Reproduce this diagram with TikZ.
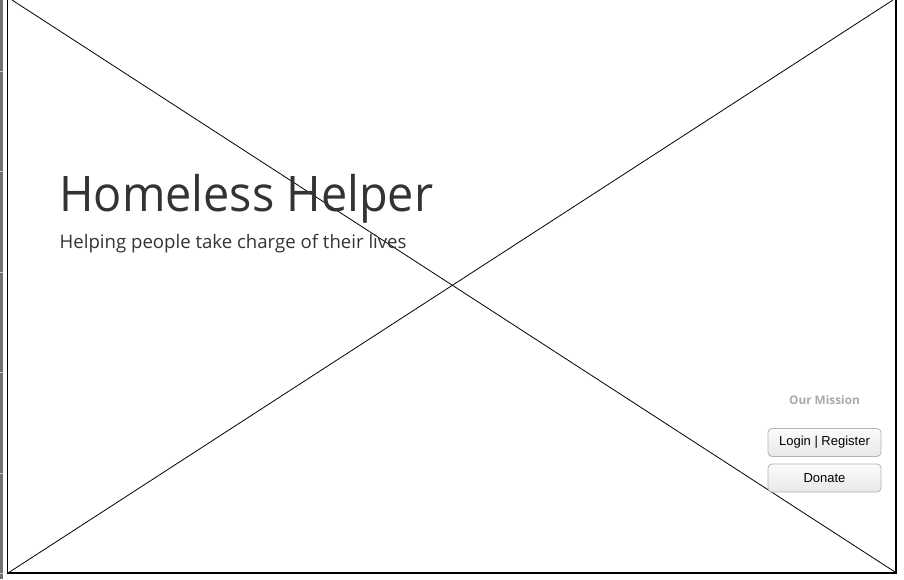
\documentclass[tikz,border=0pt]{standalone}
\usepackage{fontspec}
\setmainfont{Open Sans}
\newfontfamily\btnfont{Liberation Sans}
\usetikzlibrary{shadings}
\definecolor{titlegray}{HTML}{333333}
\definecolor{missiongray}{HTML}{AAAAAA}
\definecolor{stripgray}{HTML}{707070}
\definecolor{tickgray}{HTML}{C8C8C8}
\definecolor{btnborder}{HTML}{B4B4B4}
\definecolor{btntop}{HTML}{FBFBFB}
\definecolor{btnbot}{HTML}{E8E8E8}
\tikzset{
  frameline/.style={draw=black, line width=1.2pt},
  crossline/.style={draw=black, line width=0.8pt},
  btnbox/.style={draw=btnborder, line width=0.8pt, rounded corners=4pt,
    top color=btntop, bottom color=btnbot, minimum width=113pt,
    minimum height=28pt, inner sep=0pt, font=\btnfont\fontsize{13}{15}\selectfont, text=black},
  tickmark/.style={draw=tickgray, line width=1pt}
}
\begin{document}
\begin{tikzpicture}[x=1pt,y=-1pt]
\useasboundingbox (0,0) rectangle (904,579);
\fill[white] (0,0) rectangle (904,579);
% left strip
\fill[stripgray] (0,0) rectangle (3,579);
\foreach \t in {71,171,272,372,473,573} {
  \draw[tickmark] (0,\t) -- (3,\t);
}
% frame
\coordinate (tl) at (7.5,-2);
\coordinate (bl) at (7.5,573);
\coordinate (br) at (896,573);
\coordinate (tr) at (896,-2);
\draw[frameline] (tl) -- (bl) -- (br) -- (tr);
% diagonals
\coordinate (d1a) at (12,0);
\coordinate (d1b) at (895,572);
\coordinate (d2a) at (8,573);
\coordinate (d2b) at (893,0);
\draw[crossline] (d1a) -- (d1b);
\draw[crossline] (d2a) -- (d2b);
% texts
\node[anchor=base west, inner sep=0pt, text=titlegray, font=\fontsize{49}{58}\selectfont] (title) at (59,211) {\scalebox{0.955}[1]{Homeless Helper}};
\node[anchor=base west, inner sep=0pt, text=titlegray, font=\fontsize{18.6}{22}\selectfont] (subtitle) at (59.5,248) {Helping people take charge of their lives};
\node[inner sep=0pt, text=missiongray, font=\fontsize{11.8}{14}\selectfont\bfseries] (mission) at (824.5,400.5) {Our Mission};
\node[btnbox] (login) at (824.5,442.5) {Login | Register};
\node[btnbox] (donate) at (824.5,478) {Donate};
\end{tikzpicture}
\end{document}
